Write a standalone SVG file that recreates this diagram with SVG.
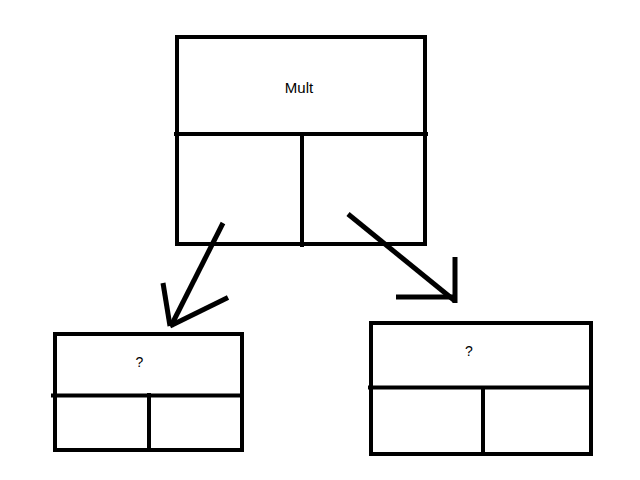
<svg xmlns="http://www.w3.org/2000/svg" width="640" height="480" viewBox="0 0 640 480">
<style>
.b{fill:none;stroke:#000;stroke-width:4}
.c{fill:none;stroke:#000;stroke-width:5;stroke-linecap:butt}
.t{font-family:"Liberation Sans",Arial,sans-serif;fill:#000;text-anchor:middle}
</style>
<rect width="640" height="480" fill="#fff"/>
<g id="mult">
<rect class="b" x="177" y="37" width="248" height="207"/>
<line class="b" x1="174" y1="134" x2="428" y2="134"/>
<line class="b" x1="302" y1="132" x2="302" y2="247"/>
<text class="t" x="299" y="93" font-size="15">Mult</text>
</g>
<g id="left">
<rect class="b" x="55" y="334" width="187" height="116"/>
<line class="b" x1="51" y1="395.5" x2="242" y2="395.5"/>
<line class="b" x1="149" y1="393" x2="149" y2="450"/>
<text class="t" x="139.5" y="367" font-size="14">?</text>
</g>
<g id="right">
<rect class="b" x="371" y="323" width="220" height="131"/>
<line class="b" x1="368" y1="387.5" x2="591" y2="387.5"/>
<line class="b" x1="483" y1="386" x2="483" y2="454"/>
<text class="t" x="469" y="356" font-size="14">?</text>
</g>
<g id="connectors">
<line class="c" x1="223" y1="223" x2="171" y2="326"/>
<line class="c" x1="163" y1="283" x2="170" y2="326"/>
<line class="c" x1="228" y1="297.5" x2="170" y2="326"/>
<line class="c" x1="348" y1="214" x2="455" y2="301"/>
<line class="c" x1="455" y1="257" x2="455" y2="303"/>
<line class="c" x1="396" y1="297" x2="457" y2="297"/>
</g>
</svg>
